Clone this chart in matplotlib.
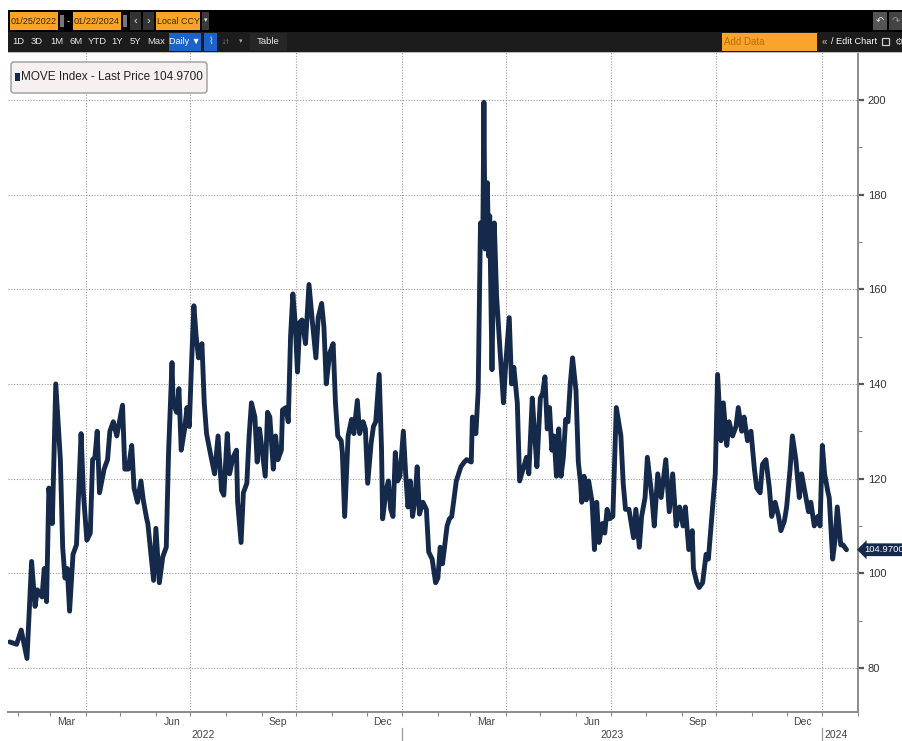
import matplotlib.pyplot as plt
import pandas as pd
from matplotlib.patches import Rectangle, FancyBboxPatch
from matplotlib.ticker import MultipleLocator
import matplotlib.dates as mdates

# MOVE Index, valores (datas aproximadas)
dates_2022 = [
    "2022-01-25", "2022-01-31", "2022-02-04", "2022-02-09", "2022-02-13", "2022-02-16",
    "2022-02-18", "2022-02-22", "2022-02-24", "2022-02-26", "2022-02-28", "2022-03-03",
    "2022-03-06", "2022-03-10", "2022-03-12", "2022-03-14", "2022-03-16", "2022-03-18",
    "2022-03-21", "2022-03-24", "2022-03-28", "2022-03-30", "2022-04-02", "2022-04-05",
    "2022-04-07", "2022-04-09", "2022-04-11", "2022-04-13", "2022-04-17", "2022-04-20",
    "2022-04-22", "2022-04-25", "2022-04-28", "2022-05-03", "2022-05-05", "2022-05-08",
    "2022-05-11", "2022-05-13", "2022-05-16", "2022-05-19", "2022-05-21", "2022-05-24",
    "2022-05-25", "2022-05-30", "2022-06-01", "2022-06-04", "2022-06-07", "2022-06-10",
    "2022-06-12", "2022-06-15", "2022-06-16", "2022-06-19", "2022-06-21", "2022-06-23",
    "2022-06-26", "2022-06-28", "2022-06-30", "2022-07-02", "2022-07-04", "2022-07-06",
    "2022-07-08", "2022-07-11", "2022-07-13", "2022-07-15", "2022-07-19", "2022-07-22",
    "2022-07-25", "2022-07-28", "2022-07-30", "2022-08-02", "2022-08-04", "2022-08-07",
    "2022-08-10", "2022-08-11", "2022-08-14", "2022-08-16", "2022-08-19", "2022-08-21",
    "2022-08-23", "2022-08-26", "2022-08-28", "2022-08-30", "2022-09-02", "2022-09-04",
    "2022-09-06", "2022-09-08", "2022-09-11", "2022-09-13", "2022-09-15", "2022-09-18",
    "2022-09-19", "2022-09-22", "2022-09-24", "2022-09-26", "2022-09-28", "2022-09-30",
    "2022-10-02", "2022-10-04", "2022-10-06", "2022-10-09", "2022-10-12", "2022-10-15",
    "2022-10-18", "2022-10-20", "2022-10-23", "2022-10-25", "2022-10-27", "2022-10-30",
    "2022-11-02", "2022-11-04", "2022-11-06", "2022-11-09", "2022-11-10", "2022-11-12",
    "2022-11-15", "2022-11-18", "2022-11-20", "2022-11-23", "2022-11-25", "2022-11-28",
    "2022-11-30", "2022-12-02", "2022-12-05", "2022-12-07", "2022-12-09", "2022-12-12",
    "2022-12-14", "2022-12-15", "2022-12-18", "2022-12-20", "2022-12-22", "2022-12-24",
    "2022-12-26", "2022-12-28", "2022-12-30",
]
move_2022 = [
    85.5, 85, 88, 82, 102.5, 93,
    96.5, 95, 101, 94, 118, 110.5,
    140, 124, 105.5, 99, 101, 92,
    104, 106, 129.5, 117, 107, 108.5,
    124, 124.5, 130, 117, 122, 124,
    130, 132, 129, 135.5, 122, 122,
    127, 118, 115, 119.5, 115.5, 111.5,
    110.5, 98.5, 109.5, 98, 103.5, 105.5,
    125.5, 144.5, 136, 134, 139, 126,
    130.5, 135, 131, 144.5, 156.5, 150,
    145.5, 148.5, 136, 129.5, 124.5, 121,
    129, 117.5, 116.5, 129.5, 121, 124.5,
    126, 115, 106.5, 117, 119, 129,
    136, 133, 123.5, 130.5, 124.5, 120.5,
    134, 133, 122, 129, 124, 126,
    134.5, 135, 132, 150, 159, 153,
    142.5, 153, 153.5, 148.5, 161, 153,
    145.5, 154, 157, 152, 140, 146.5,
    148.5, 136, 129, 128, 125.5, 112,
    129, 132.5, 129.5, 136.5, 129.5, 132,
    130.5, 119, 127.5, 131, 132, 142,
    126.5, 111.5, 117.5, 119.5, 113.5, 112,
    125.5, 119.5, 120.5,
]

dates_2023 = [
    "2023-01-02", "2023-01-04", "2023-01-06", "2023-01-08", "2023-01-10", "2023-01-12",
    "2023-01-14", "2023-01-16", "2023-01-19", "2023-01-22", "2023-01-24", "2023-01-27",
    "2023-01-30", "2023-02-01", "2023-02-03", "2023-02-05", "2023-02-09", "2023-02-11",
    "2023-02-13", "2023-02-17", "2023-02-21", "2023-02-24", "2023-02-26", "2023-03-02",
    "2023-03-03", "2023-03-06", "2023-03-08", "2023-03-10", "2023-03-12", "2023-03-13",
    "2023-03-14", "2023-03-16", "2023-03-17", "2023-03-18", "2023-03-20", "2023-03-22",
    "2023-03-24", "2023-03-27", "2023-03-30", "2023-04-01", "2023-04-04", "2023-04-06",
    "2023-04-08", "2023-04-11", "2023-04-13", "2023-04-16", "2023-04-19", "2023-04-21",
    "2023-04-24", "2023-04-26", "2023-04-28", "2023-05-01", "2023-05-03", "2023-05-05",
    "2023-05-07", "2023-05-09", "2023-05-11", "2023-05-13", "2023-05-15", "2023-05-17",
    "2023-05-19", "2023-05-21", "2023-05-23", "2023-05-25", "2023-05-27", "2023-05-29",
    "2023-06-01", "2023-06-03", "2023-06-05", "2023-06-06", "2023-06-08", "2023-06-10",
    "2023-06-12", "2023-06-15", "2023-06-17", "2023-06-19", "2023-06-21", "2023-06-24",
    "2023-06-26", "2023-06-28", "2023-06-30", "2023-07-03", "2023-07-06", "2023-07-08",
    "2023-07-10", "2023-07-12", "2023-07-14", "2023-07-17", "2023-07-21", "2023-07-23",
    "2023-07-26", "2023-07-28", "2023-07-31", "2023-08-02", "2023-08-06", "2023-08-08",
    "2023-08-11", "2023-08-14", "2023-08-18", "2023-08-21", "2023-08-24", "2023-08-27",
    "2023-08-30", "2023-09-02", "2023-09-04", "2023-09-07", "2023-09-10", "2023-09-11",
    "2023-09-14", "2023-09-16", "2023-09-19", "2023-09-22", "2023-09-24", "2023-09-27",
    "2023-09-30", "2023-10-02", "2023-10-05", "2023-10-07", "2023-10-10", "2023-10-12",
    "2023-10-15", "2023-10-18", "2023-10-20", "2023-10-23", "2023-10-25", "2023-10-28",
    "2023-10-31", "2023-11-03", "2023-11-05", "2023-11-08", "2023-11-10", "2023-11-13",
    "2023-11-16", "2023-11-18", "2023-11-21", "2023-11-24", "2023-11-26", "2023-11-29",
    "2023-12-01", "2023-12-04", "2023-12-06", "2023-12-09", "2023-12-12", "2023-12-14",
    "2023-12-17", "2023-12-20", "2023-12-22", "2023-12-25", "2023-12-28", "2023-12-30",
]
move_2023 = [
    130, 121, 114, 119.5, 112, 115.5,
    122.5, 112.5, 115, 113.5, 104.5, 103,
    98, 99, 105.5, 102, 110, 111.5,
    112, 119.5, 122.5, 123.5, 124, 123.5,
    133, 129.5, 138.5, 174, 170, 199.5,
    168.5, 182.5, 167, 175.5, 143, 174,
    158.5, 147, 136, 144.5, 154, 140,
    143.5, 136, 119.5, 122, 124.5, 121,
    137, 129.5, 122.5, 137, 138, 141.5,
    130.5, 135, 126, 129, 120.5, 130.5,
    120.5, 124.5, 132.5, 132, 140, 145.5,
    138.5, 123.5, 119, 115, 120.5, 115.5,
    119.5, 115, 105, 115, 106.5, 110.5,
    108.5, 113.5, 111.5, 112, 135, 132,
    129, 119, 113.5, 113.5, 107.5, 113.5,
    105.5, 112, 116, 124.5, 116, 110,
    121, 116, 124, 113, 121, 110,
    114, 110, 114, 105, 109, 101,
    98, 97, 98, 104, 103, 112,
    121, 142, 128, 136, 127, 132,
    129, 131, 135, 130, 133, 128,
    130, 122, 118, 117, 123, 124,
    118, 112, 115, 112, 109, 111,
    114, 122, 129, 124, 116, 121,
    117, 113, 115, 110, 112, 110,
]

dates_2024 = ["2024-01-01", "2024-01-03", "2024-01-06", "2024-01-07", "2024-01-10",
              "2024-01-12", "2024-01-14", "2024-01-17", "2024-01-19", "2024-01-22"]
move_2024 = [127, 121, 117, 116, 103, 107, 114, 106, 106, 104.97]

last_price = 104.97
y_ticks = [80, 100, 120, 140, 160, 180, 200]
month_labels = ["Mar", "Jun", "Sep", "Dec", "Mar", "Jun", "Sep", "Dec"]
month_label_dates = ["2022-03-15", "2022-06-15", "2022-09-15", "2022-12-15",
                     "2023-03-15", "2023-06-15", "2023-09-15", "2023-12-15"]
year_labels = ["2022", "2023", "2024"]
year_label_dates = ["2022-07-12", "2023-07-02", "2024-01-13"]
quarter_lines = ["2022-04-01", "2022-07-01", "2022-10-01", "2023-01-01",
                 "2023-04-01", "2023-07-01", "2023-10-01", "2024-01-01"]
year_breaks = ["2023-01-01", "2024-01-01"]

dates = pd.to_datetime(dates_2022 + dates_2023 + dates_2024)
move = move_2022 + move_2023 + move_2024

W, H = 903, 741
NAVY = "#15294a"
ORANGE = "#f8a42a"
FONT = dict(family=["Liberation Sans", "DejaVu Sans"])


def box(l, t, r, b):
    return [l / W, 1 - b / H, (r - l) / W, (b - t) / H]


fig = plt.figure(figsize=(W / 100, H / 100), dpi=100)
ax = fig.add_axes(box(8, 52, 858, 712))

ax.plot(dates, move, color=NAVY, lw=3.5, solid_joinstyle="round", solid_capstyle="round", zorder=3)

ax.set_xlim(pd.Timestamp("2022-01-23 12:00"), pd.Timestamp("2024-02-01"))
ax.set_ylim(70.7, 210.1)

# eixo y a direita
ax.yaxis.tick_right()
ax.set_yticks(y_ticks)
ax.yaxis.set_minor_locator(MultipleLocator(10))
ax.tick_params(axis="y", which="major", length=4, width=1.6, color="#555555",
               labelsize=8, labelcolor="#333333", pad=3)
ax.tick_params(axis="y", which="minor", length=3, width=0.8, color="#888888")
for lab in ax.get_yticklabels():
    lab.set_family(FONT["family"])

# eixo x: marcas mensais, rotulos no meio do mes
ax.xaxis.set_major_locator(mdates.MonthLocator())
ax.xaxis.set_major_formatter(plt.NullFormatter())
ax.tick_params(axis="x", which="major", length=3, width=0.8, color="#888888")

for spine in ["left", "top"]:
    ax.spines[spine].set_visible(False)
for spine in ["bottom", "right"]:
    ax.spines[spine].set_color("#8c8c8c")
    ax.spines[spine].set_linewidth(1.4)

# grade pontilhada
ax.grid(axis="y", which="major", color="#9a9a9a", lw=0.8, ls=(0, (1, 1.5)))
for d in quarter_lines:
    ax.axvline(pd.Timestamp(d), color="#9a9a9a", lw=0.8, ls=(0, (1, 1.5)), zorder=1)
for d in year_breaks:
    ax.axvline(pd.Timestamp(d), ymin=-0.05, ymax=-0.024, color="#9a9a9a", lw=0.9, clip_on=False)

xt = ax.get_xaxis_transform()
for lab, d in zip(month_labels, month_label_dates):
    ax.text(pd.Timestamp(d), -0.0155, lab, transform=xt, ha="center", va="center",
            fontsize=7.5, color="#444444", **FONT)
for lab, d in zip(year_labels, year_label_dates):
    ax.text(pd.Timestamp(d), -0.0355, lab, transform=xt, ha="center", va="center",
            fontsize=7.5, color="#444444", **FONT)

# etiqueta do ultimo preco
ax.text(1.007, last_price, f"{last_price:.4f}", transform=ax.get_yaxis_transform(),
        ha="left", va="center", fontsize=6.8, color="white", clip_on=False, **FONT,
        bbox=dict(boxstyle="larrow,pad=0.2", fc=NAVY, ec="none"))

# camada de cima: barra de ferramentas e legenda (em pixels)
ov = fig.add_axes([0, 0, 1, 1])
ov.set_xlim(0, W)
ov.set_ylim(H, 0)
ov.set_axis_off()


def rect(l, t, r, b, color):
    ov.add_patch(Rectangle((l, t), r - l, b - t, color=color, lw=0))


def txt(x, y, s, color="#e8e8e8", size=7, ha="left"):
    ov.text(x, y, s, color=color, fontsize=size, ha=ha, va="center", **FONT)


rect(8, 10, W, 32, "#000000")
rect(8, 32, W, 52, "#1c1c1c")
rect(8, 52, W, 53, "#bdbdbd")

rect(10, 12, 58, 30, ORANGE)
txt(34, 21, "01/25/2022", color="#3a2600", size=6.6, ha="center")
rect(60, 15, 64, 27, "#777777")
txt(68.5, 21, "-", size=7, ha="center")
rect(73, 12, 121, 30, ORANGE)
txt(97, 21, "01/22/2024", color="#3a2600", size=6.6, ha="center")
rect(123, 15, 127, 27, "#777777")
rect(130, 12, 141, 30, "#333333")
txt(135.5, 21, "‹", ha="center", size=8)
rect(143, 12, 154, 30, "#333333")
txt(148.5, 21, "›", ha="center", size=8)
rect(156, 12, 200, 30, ORANGE)
txt(178, 21, "Local CCY", color="#3a2600", size=6.4, ha="center")
rect(202, 12, 209, 30, "#3a3a3a")
txt(205.5, 21, "▾", ha="center", size=5)
rect(873, 12, 887, 30, "#555555")
txt(880, 21, "↶", ha="center", size=7)
rect(889, 12, 903, 30, "#444444")
txt(896, 21, "↷", ha="center", size=7, color="#999999")

for s, x in zip(["1D", "3D", "1M", "6M", "YTD", "1Y", "5Y", "Max"],
                [18, 37, 57, 76, 97, 117, 135, 156]):
    txt(x, 42, s, ha="center", size=6.8)
rect(169, 33, 201, 51, "#1c63c9")
txt(185, 42, "Daily ▼", color="white", size=6.5, ha="center")
rect(204, 33, 217, 51, "#1c63c9")
txt(210.5, 42, "⌇", ha="center", color="#cfe0ff", size=7)
txt(226, 42, "↓↑", ha="center", color="#aaaaaa", size=6)
txt(241, 42, "▾", ha="center", color="#aaaaaa", size=5)
rect(250, 33, 287, 51, "#262626")
txt(268, 42, "Table", ha="center", size=6.8)
rect(722, 33, 817, 51, ORANGE)
txt(724, 42, "Add Data", color="#b8700a", size=7)
txt(824, 42, "«", ha="center", color="#cccccc", size=7)
txt(831, 42, "/ Edit Chart", color="white", size=6.6)
# icone de janela (sem glifo disponivel)
ov.add_patch(Rectangle((882, 38), 7, 7, fill=False, ec="#cccccc", lw=0.9))
txt(898, 42, "⚙", ha="center", color="#cccccc", size=7)

# legenda
ov.add_patch(FancyBboxPatch((11, 62), 196, 31, boxstyle="round,pad=0,rounding_size=3",
                            fc="#f7f0f0", ec="#9a9a9a", lw=1))
ov.add_patch(Rectangle((15, 73), 5, 8, color=NAVY, lw=0))
txt(21, 77.5, "MOVE Index - Last Price 104.9700", color="#222222", size=8.5)

plt.savefig("out.png", dpi=100)
